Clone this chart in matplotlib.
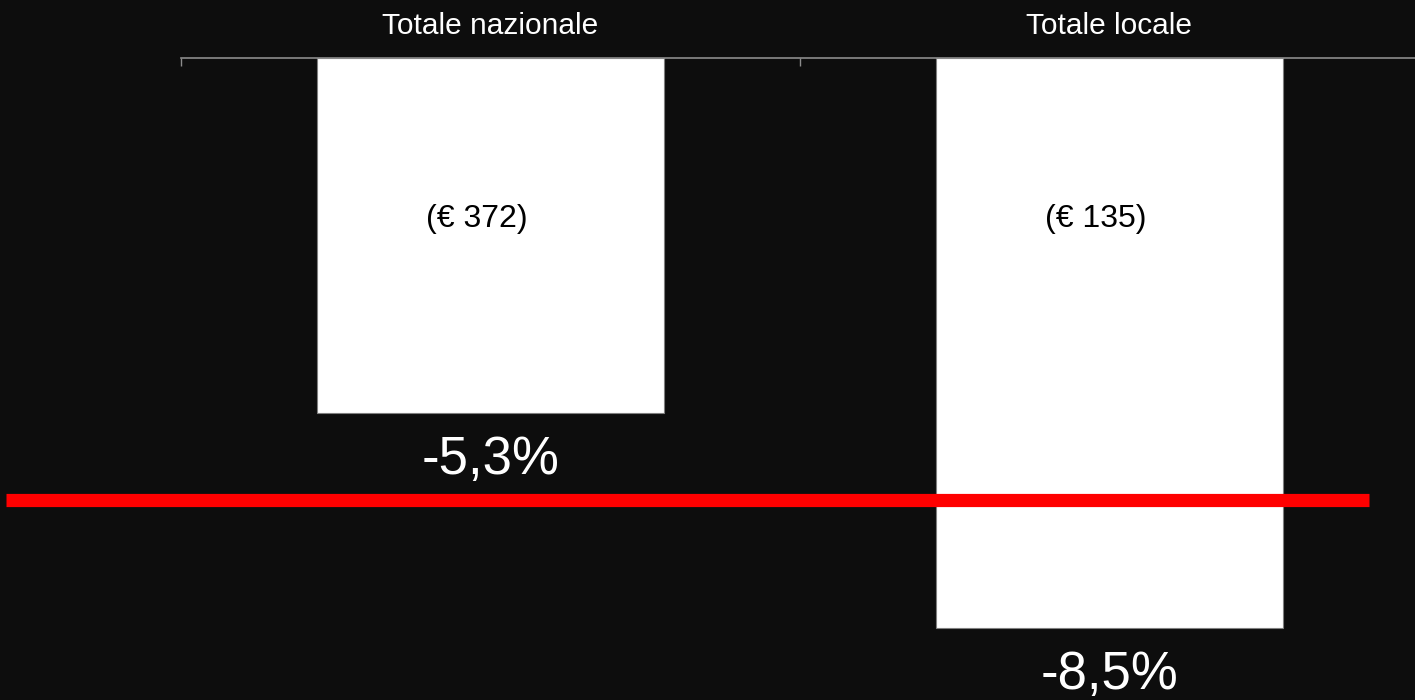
import matplotlib.pyplot as plt
import numpy as np

# data
categories = ['Totale nazionale', 'Totale locale']
changes = [-5.3, -8.5]
change_labels = ['-5,3%', '-8,5%']
amount_labels = ['(€ 372)', '(€ 135)']
reference_value = -6.6

plt.rcParams['font.family'] = ['Liberation Sans', 'DejaVu Sans']
bg = '#0d0d0d'

fig = plt.figure(figsize=(14.15, 7.0), dpi=100, facecolor=bg)
# axes runs slightly past the right edge of the figure
ax = fig.add_axes([181 / 1415, 0.0, 1238 / 1415, 1 - 58 / 700])
ax.set_facecolor(bg)

x = np.arange(len(categories))
bars = ax.bar(x, changes, width=0.561, color='white', edgecolor='#7f7f7f',
              linewidth=0.8, zorder=2)

ax.set_xlim(-0.5, 1.5)
ax.set_ylim(-642 / 67.0, 0)

# value labels under each bar
for rect, lab in zip(bars, change_labels):
    ax.annotate(lab, (rect.get_x() + rect.get_width() / 2, rect.get_height()),
                xytext=(0, -34), textcoords='offset points',
                ha='center', va='center', color='white', fontsize=38)

# amounts inside the bars (sit a little left of centre in the original)
for xi, lab in zip(x, amount_labels):
    ax.annotate(lab, (xi, -2.4), xytext=(-9.7, 0), textcoords='offset points',
                ha='center', va='center', color='black', fontsize=23, zorder=3)

# red reference line, runs past the left of the axes
ax.axhline(reference_value, xmin=-0.1414, xmax=0.9596, color='#ff0000',
           linewidth=9.5, clip_on=False, zorder=4, solid_capstyle='butt')

# category axis on top: ticks at boundaries, labels centred
ax.xaxis.tick_top()
ax.set_xticks([-0.5, 0.5, 1.5])
ax.set_xticklabels([])
ax.set_xticks(x, minor=True)
ax.set_xticklabels(categories, minor=True, color='white', fontsize=21.5)
ax.tick_params(axis='x', which='major', direction='in', length=6, width=1,
               color='#8c8c8c')
ax.tick_params(axis='x', which='minor', length=0, pad=13)
ax.set_yticks([])

for side in ['left', 'right', 'bottom']:
    ax.spines[side].set_visible(False)
ax.spines['top'].set_color('#8c8c8c')
ax.spines['top'].set_linewidth(1.2)

fig.savefig('out.png', dpi=100, facecolor=bg)
